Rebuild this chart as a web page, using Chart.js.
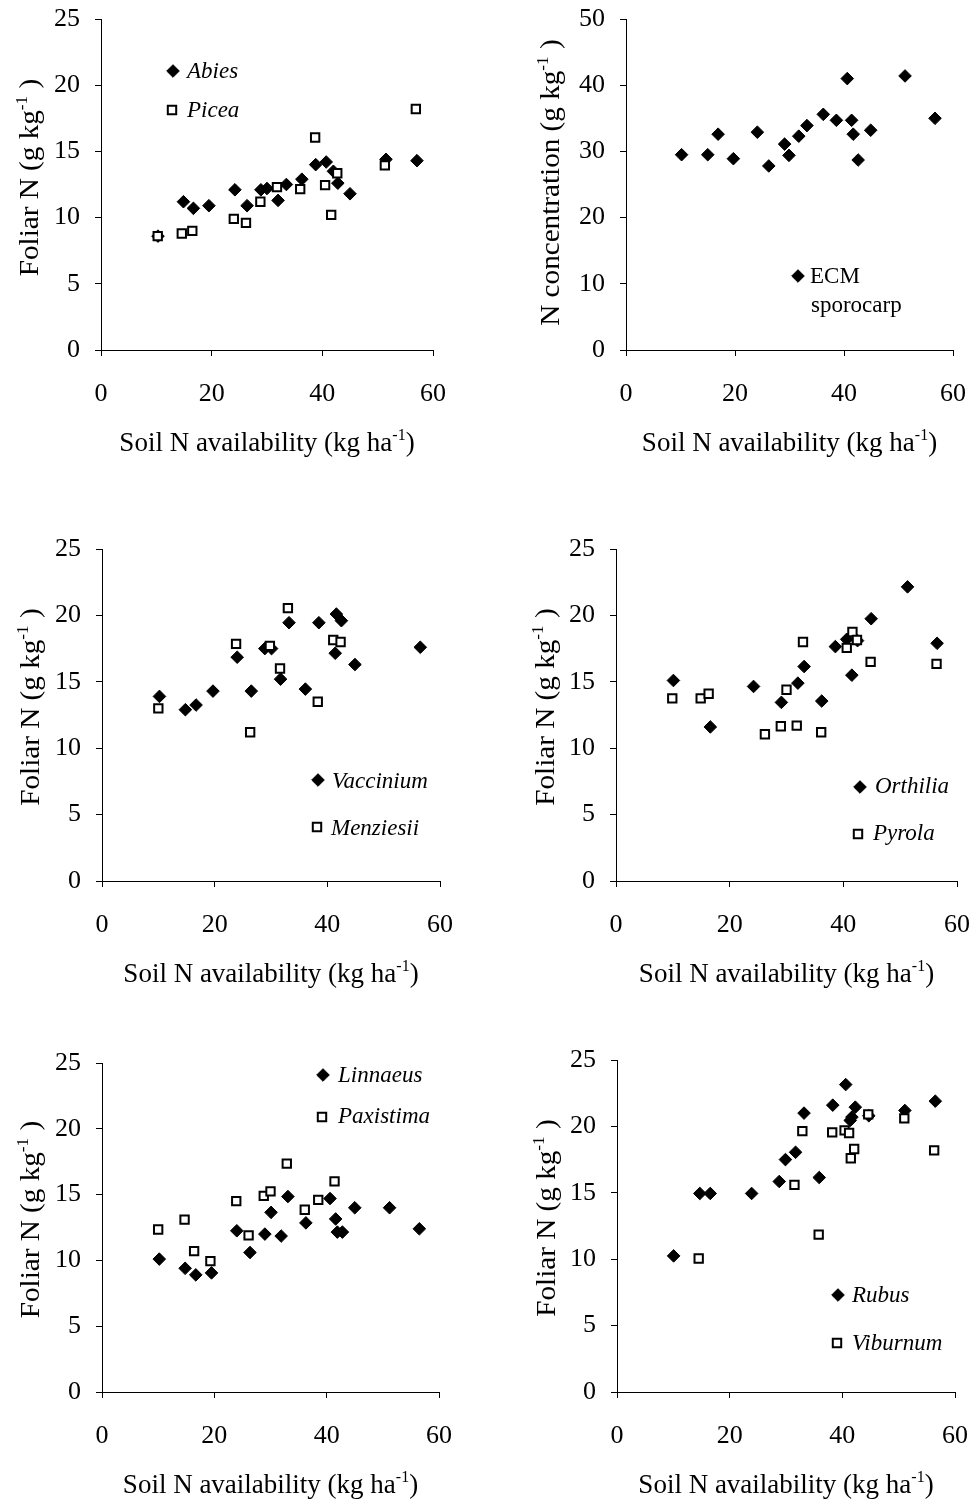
<!DOCTYPE html>
<html>
<head>
<meta charset="utf-8">
<script src="https://cdn.jsdelivr.net/npm/chart.js@4.4.1/dist/chart.umd.min.js"></script>
<style>
html,body{margin:0;padding:0;background:#fff;width:973px;height:1505px;overflow:hidden;position:relative;}
canvas{position:absolute;}
</style>
</head>
<body>
<canvas id="c1" width="486" height="500" style="left:0px;top:0px"></canvas>
<canvas id="c2" width="487" height="500" style="left:486px;top:0px"></canvas>
<canvas id="c3" width="486" height="500" style="left:0px;top:520px"></canvas>
<canvas id="c4" width="487" height="500" style="left:486px;top:520px"></canvas>
<canvas id="c5" width="486" height="475" style="left:0px;top:1030px"></canvas>
<canvas id="c6" width="487" height="475" style="left:486px;top:1030px"></canvas>
<script>
// ---------------- DATA ----------------
const xTickValues = [0, 20, 40, 60];
const yTickFoliar = [0, 5, 10, 15, 20, 25];
const yTickConc = [0, 10, 20, 30, 40, 50];

const abiesX = [10.3, 14.9, 16.7, 19.5, 24.2, 26.4, 28.9, 30.0, 32.0, 33.5, 36.3, 38.8, 40.7, 42.0, 42.8, 45.0, 51.5, 57.1];
const abiesY = [8.6, 11.2, 10.7, 10.9, 12.1, 10.9, 12.1, 12.2, 11.3, 12.5, 12.9, 14.0, 14.2, 13.5, 12.6, 11.8, 14.4, 14.3];
const piceaX = [10.25, 14.6, 16.5, 24.0, 26.2, 28.8, 31.8, 36.0, 38.7, 40.5, 41.6, 42.7, 51.3, 56.9];
const piceaY = [8.6, 8.8, 9.0, 9.9, 9.6, 11.2, 12.3, 12.15, 16.05, 12.45, 10.2, 13.35, 13.95, 18.2];

const ecmX = [10.2, 15.0, 16.9, 19.7, 24.1, 26.2, 29.1, 29.9, 31.7, 33.2, 36.2, 38.6, 40.6, 41.4, 41.7, 42.6, 44.9, 51.2, 56.7];
const ecmY = [29.5, 29.5, 32.6, 28.9, 32.9, 27.8, 31.1, 29.4, 32.3, 33.9, 35.6, 34.7, 41.0, 34.7, 32.6, 28.7, 33.2, 41.4, 35.0];

const vacciniumX = [10.2, 14.8, 16.7, 19.7, 24.0, 26.5, 28.9, 30.1, 31.7, 33.2, 36.1, 38.5, 41.6, 42.5, 41.4, 44.9, 56.5];
const vacciniumY = [13.9, 12.9, 13.25, 14.3, 16.85, 14.3, 17.5, 17.5, 15.2, 19.45, 14.45, 19.45, 20.1, 19.6, 17.15, 16.3, 17.6];
const menziesiiX = [10.0, 23.8, 26.3, 29.8, 31.6, 33.0, 38.3, 41.05, 42.35];
const menziesiiY = [13.0, 17.85, 11.2, 17.7, 16.0, 20.55, 13.5, 18.15, 18.0];

const orthiliaX = [10.1, 16.6, 24.2, 29.1, 32.0, 33.1, 36.2, 38.6, 40.6, 41.5, 42.5, 44.9, 51.3, 56.5];
const orthiliaY = [15.1, 11.6, 14.65, 13.45, 14.9, 16.15, 13.55, 17.65, 18.2, 15.5, 18.1, 19.75, 22.15, 17.9];
const pyrolaX = [9.9, 14.9, 16.3, 26.2, 29.0, 30.0, 31.8, 32.9, 36.1, 40.6, 41.6, 42.4, 44.8, 56.4];
const pyrolaY = [13.75, 13.75, 14.1, 11.05, 11.65, 14.4, 11.7, 18.0, 11.2, 17.55, 18.75, 18.15, 16.5, 16.35];

const linnaeusX = [10.2, 14.8, 16.7, 19.5, 24.0, 26.35, 29.0, 30.1, 31.9, 33.1, 36.3, 40.6, 41.6, 41.9, 42.8, 45.0, 51.2, 56.5];
const linnaeusY = [10.1, 9.4, 8.9, 9.05, 12.25, 10.6, 12.0, 13.65, 11.85, 14.85, 12.85, 14.7, 13.15, 12.15, 12.15, 14.0, 14.0, 12.4];
const paxistimaX = [10.0, 14.7, 16.4, 19.3, 23.9, 26.1, 28.8, 30.0, 32.9, 36.1, 38.5, 41.4];
const paxistimaY = [12.35, 13.1, 10.7, 9.95, 14.5, 11.9, 14.9, 15.25, 17.35, 13.85, 14.6, 16.0];

const rubusX = [10.05, 14.7, 16.55, 23.9, 28.8, 29.9, 31.7, 33.2, 35.9, 38.3, 40.6, 42.3, 41.4, 41.7, 44.7, 51.1, 56.5];
const rubusY = [10.25, 14.95, 14.95, 14.95, 15.85, 17.5, 18.05, 21.0, 16.15, 21.6, 23.15, 21.45, 20.45, 20.7, 20.8, 21.2, 21.9];
const viburnumX = [14.5, 31.5, 32.9, 35.8, 38.2, 40.4, 41.2, 42.1, 41.5, 44.6, 51.0, 56.3];
const viburnumY = [10.05, 15.6, 19.65, 11.85, 19.55, 19.7, 19.5, 18.3, 17.6, 20.9, 20.6, 18.2];

const xTitle = [['Soil N availability (kg ha', false], ['-1', true], [')', false]];
const yTitleFoliar = [['Foliar N (g kg', false], ['-1', true], [' )', false]];
const yTitleConc = [['N concentration (g kg', false], ['-1', true], [' )', false]];

// ---------------- RENDERING ----------------
const FONT = "'Liberation Serif', 'Times New Roman', Times, serif";
const TICK_SIZE = 26, TITLE_SIZE = 27, SUP_SIZE = 16, LEG_SIZE = 23;

function pts(xs, ys) { return xs.map((x, i) => ({x: x, y: ys[i]})); }

function diamondSet(label, xs, ys) {
  return {label, data: pts(xs, ys), pointStyle: 'rectRot', pointRadius: 6.3, pointHoverRadius: 6.3,
          backgroundColor: '#000', borderColor: '#000', borderWidth: 1, order: 1};
}
function squareSet(label, xs, ys) {
  return {label, data: pts(xs, ys), pointStyle: 'rect', pointRadius: 5.9, pointHoverRadius: 5.9,
          backgroundColor: '#fff', borderColor: '#000', borderWidth: 2, order: 0};
}

function richWidth(ctx, parts) {
  let w = 0;
  for (const [t, sup] of parts) {
    ctx.font = (sup ? SUP_SIZE : TITLE_SIZE) + 'px ' + FONT;
    w += ctx.measureText(t).width;
  }
  return w;
}
function drawRich(ctx, parts, cx, by) {
  const total = richWidth(ctx, parts);
  let x = cx - total / 2;
  ctx.fillStyle = '#000';
  ctx.textBaseline = 'alphabetic';
  ctx.textAlign = 'left';
  for (const [t, sup] of parts) {
    ctx.font = (sup ? SUP_SIZE : TITLE_SIZE) + 'px ' + FONT;
    ctx.fillText(t, x, sup ? by - 11 : by);
    x += ctx.measureText(t).width;
  }
}
function drawMarker(ctx, kind, x, y) {
  ctx.save();
  ctx.beginPath();
  if (kind === 'diamond') {
    const r = 6.3;
    ctx.moveTo(x - r, y); ctx.lineTo(x, y - r); ctx.lineTo(x + r, y); ctx.lineTo(x, y + r);
    ctx.closePath();
    ctx.fillStyle = '#000'; ctx.fill();
    ctx.lineWidth = 1; ctx.strokeStyle = '#000'; ctx.stroke();
  } else {
    const s = 8.4;
    ctx.rect(x - s / 2, y - s / 2, s, s);
    ctx.fillStyle = '#fff'; ctx.fill();
    ctx.lineWidth = 2; ctx.strokeStyle = '#000'; ctx.stroke();
  }
  ctx.restore();
}

function makeDecor(p) {
  return {
    id: 'panelDecor',
    afterDraw(chart) {
      const ctx = chart.ctx, ca = chart.chartArea;
      ctx.save();
      drawRich(ctx, xTitle, (ca.left + ca.right) / 2, ca.bottom + p.xTitleOff);
      ctx.save();
      ctx.translate(ca.left - p.yTitleOff, (ca.top + ca.bottom) / 2 + p.yTitleShift);
      ctx.rotate(-Math.PI / 2);
      ctx.scale(1.08, 1);
      drawRich(ctx, p.yTitle, 0, 0);
      ctx.restore();
      for (const it of p.legend) {
        drawMarker(ctx, it.kind, it.mx, it.my);
        ctx.fillStyle = '#000';
        ctx.textAlign = 'left';
        ctx.textBaseline = 'alphabetic';
        ctx.font = (it.italic ? 'italic ' : '') + LEG_SIZE + 'px ' + FONT;
        it.lines.forEach(ln => ctx.fillText(ln[0], ln[1], ln[2]));
      }
      ctx.restore();
    }
  };
}

function makeChart(p, datasets) {
  const gridOpts = {display: true, drawOnChartArea: false, drawTicks: true, tickLength: 6, color: '#000', lineWidth: 1};
  const borderOpts = {display: true, color: '#000', width: 1};
  new Chart(document.getElementById(p.id), {
    type: 'scatter',
    data: {datasets},
    options: {
      responsive: false, animation: false, devicePixelRatio: 1,
      layout: {padding: p.pad},
      plugins: {legend: {display: false}, tooltip: {enabled: false}},
      scales: {
        x: {
          type: 'linear', min: 0, max: 60,
          afterBuildTicks: s => { s.ticks = xTickValues.map(v => ({value: v})); },
          afterFit: s => { s.height = 60; s.paddingLeft = 0; s.paddingRight = 0; },
          grid: gridOpts, border: borderOpts,
          ticks: {color: '#000', font: {family: FONT, size: TICK_SIZE}, padding: 23, maxRotation: 0, autoSkip: false}
        },
        y: {
          type: 'linear', min: 0, max: p.yTicks[p.yTicks.length - 1],
          afterBuildTicks: s => { s.ticks = p.yTicks.map(v => ({value: v})); },
          afterFit: s => { s.width = 60; s.paddingTop = 0; s.paddingBottom = 0; },
          grid: gridOpts, border: borderOpts,
          ticks: {color: '#000', font: {family: FONT, size: TICK_SIZE}, padding: 15, autoSkip: false}
        }
      }
    },
    plugins: [makeDecor(p)]
  });
}

const panels = [
  {id: 'c1', pad: {left: 41, top: 19, right: 53, bottom: 90}, yTicks: yTickFoliar, yTitle: yTitleFoliar, yTitleOff: 63, yTitleShift: -7, xTitleOff: 101,
   legend: [
     {kind: 'diamond', mx: 173, my: 71, italic: true, lines: [['Abies', 187, 78]]},
     {kind: 'square', mx: 172, my: 110, italic: true, lines: [['Picea', 187, 117]]}
   ]},
  {id: 'c2', pad: {left: 80, top: 19, right: 20, bottom: 90}, yTicks: yTickConc, yTitle: yTitleConc, yTitleOff: 67, yTitleShift: -2, xTitleOff: 101,
   legend: [
     {kind: 'diamond', mx: 312, my: 276, italic: false, lines: [['ECM', 324, 283], ['sporocarp', 325, 312]]}
   ]},
  {id: 'c3', pad: {left: 42, top: 29, right: 46, bottom: 79}, yTicks: yTickFoliar, yTitle: yTitleFoliar, yTitleOff: 63, yTitleShift: -8, xTitleOff: 101,
   legend: [
     {kind: 'diamond', mx: 318, my: 260, italic: true, lines: [['Vaccinium', 332, 268]]},
     {kind: 'square', mx: 317, my: 307, italic: true, lines: [['Menziesii', 331, 315]]}
   ]},
  {id: 'c4', pad: {left: 70, top: 29, right: 16, bottom: 79}, yTicks: yTickFoliar, yTitle: yTitleFoliar, yTitleOff: 62, yTitleShift: -8, xTitleOff: 101,
   legend: [
     {kind: 'diamond', mx: 374, my: 267, italic: true, lines: [['Orthilia', 389, 273]]},
     {kind: 'square', mx: 372, my: 314, italic: true, lines: [['Pyrola', 387, 320]]}
   ]},
  {id: 'c5', pad: {left: 42, top: 33, right: 47, bottom: 53}, yTicks: yTickFoliar, yTitle: yTitleFoliar, yTitleOff: 63, yTitleShift: -8, xTitleOff: 101,
   legend: [
     {kind: 'diamond', mx: 323, my: 45, italic: true, lines: [['Linnaeus', 338, 52]]},
     {kind: 'square', mx: 322, my: 87, italic: true, lines: [['Paxistima', 338, 93]]}
   ]},
  {id: 'c6', pad: {left: 71, top: 30, right: 18, bottom: 53}, yTicks: yTickFoliar, yTitle: yTitleFoliar, yTitleOff: 62, yTitleShift: -8, xTitleOff: 101,
   legend: [
     {kind: 'diamond', mx: 352, my: 265, italic: true, lines: [['Rubus', 366, 272]]},
     {kind: 'square', mx: 351, my: 313, italic: true, lines: [['Viburnum', 366, 320]]}
   ]}
];

makeChart(panels[0], [diamondSet('Abies', abiesX, abiesY), squareSet('Picea', piceaX, piceaY)]);
makeChart(panels[1], [diamondSet('ECM sporocarp', ecmX, ecmY)]);
makeChart(panels[2], [diamondSet('Vaccinium', vacciniumX, vacciniumY), squareSet('Menziesii', menziesiiX, menziesiiY)]);
makeChart(panels[3], [diamondSet('Orthilia', orthiliaX, orthiliaY), squareSet('Pyrola', pyrolaX, pyrolaY)]);
makeChart(panels[4], [diamondSet('Linnaeus', linnaeusX, linnaeusY), squareSet('Paxistima', paxistimaX, paxistimaY)]);
makeChart(panels[5], [diamondSet('Rubus', rubusX, rubusY), squareSet('Viburnum', viburnumX, viburnumY)]);
</script>
</body>
</html>
